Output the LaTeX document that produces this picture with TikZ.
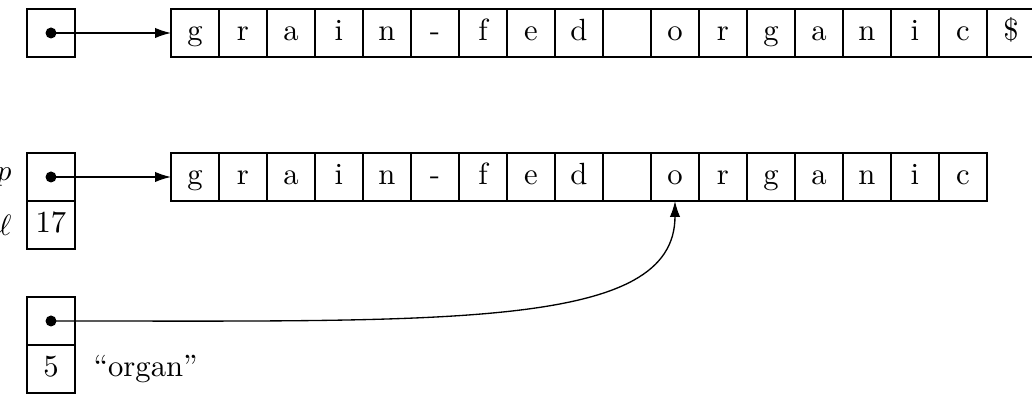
\documentclass[tikz,border=0pt]{standalone}
\usetikzlibrary{arrows.meta}
\begin{document}
\begin{tikzpicture}[x=0.339pt,y=-0.339pt,
  every node/.style={font=\fontsize{10.4}{12.5}\selectfont},
  cell/.style={draw,line width=0.45pt,minimum size=16.27pt,inner sep=0pt,outer sep=0pt,text height=1.5ex,text depth=0.25ex},
  ptr/.style={line width=0.45pt,-{Latex[length=5.4pt,width=3.5pt]}},
  lab/.style={inner sep=0pt,anchor=east}]
\useasboundingbox (0,0) rectangle (1032,414);
% row 1
\node[cell] (p1) at (51,33) {};
\foreach \c [count=\i] in {g,r,a,i,n,-,f,e,d,{},o,r,g,a,n,i,c,\$}
  \node[cell] (a\i) at ({195+48*(\i-1)},33) {\c};
\fill (p1.center) circle (5.5);
\draw[ptr] (p1.center) -- (a1.west);
% row 2
\node[cell] (p2) at (51,177) {};
\node[cell] (l2) at (51,225) {17};
\foreach \c [count=\i] in {g,r,a,i,n,-,f,e,d,{},o,r,g,a,n,i,c}
  \node[cell] (b\i) at ({195+48*(\i-1)},177) {\c};
\node[lab] (plab) at (12,177) {$p$};
\node[lab] (llab) at (12,225) {$\ell$};
\fill (p2.center) circle (5.5);
\draw[ptr] (p2.center) -- (b1.west);
% row 3
\node[cell] (p3) at (51,321) {};
\node[cell] (l3) at (51,369) {5};
\node[inner sep=0pt,anchor=west] (org) at (93,369) {``organ''};
\fill (p3.center) circle (5.5);
\draw[ptr] (p3.center) .. controls +(400,0) and +(0,128) .. (b11.south);
\end{tikzpicture}
\end{document}
